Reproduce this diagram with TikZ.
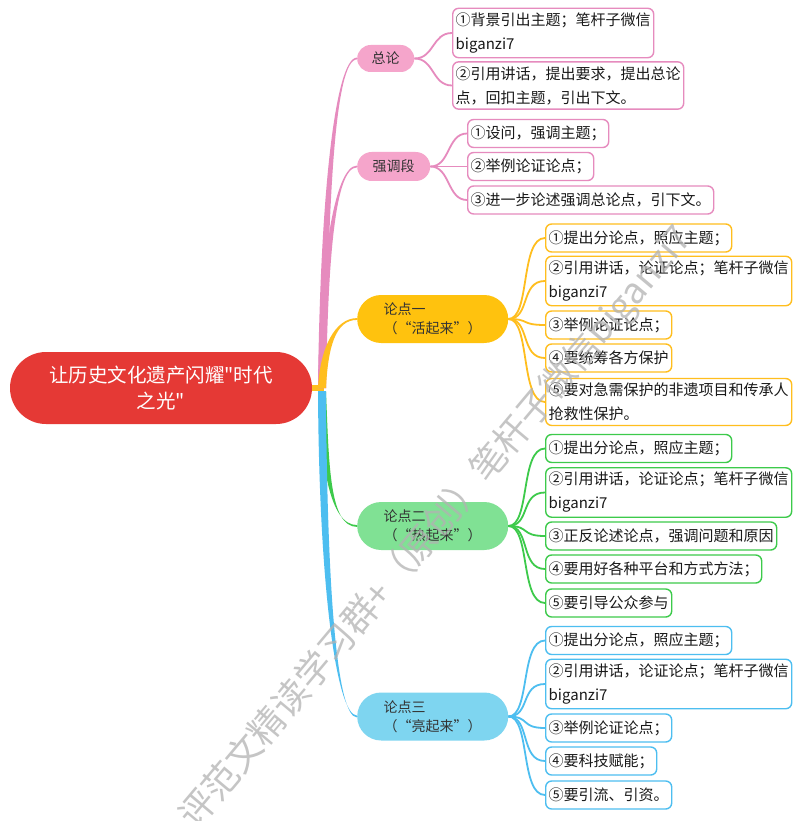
\documentclass[tikz,border=0pt]{standalone}
\usepackage{fontspec}
\setmainfont{Noto Sans CJK SC}[Ligatures=TeXOff]
\usetikzlibrary{calc}

\definecolor{rouge}{HTML}{E53935}
\definecolor{rose}{HTML}{E68BBE}
\definecolor{roseclair}{HTML}{F5A5CB}
\definecolor{jaune}{HTML}{FFBE1E}
\definecolor{jauneclair}{HTML}{FFC20E}
\definecolor{vert}{HTML}{3DCA4B}
\definecolor{vertclair}{HTML}{80E194}
\definecolor{bleu}{HTML}{4DBEF0}
\definecolor{bleuclair}{HTML}{7ED5F0}

\begin{document}
\begin{tikzpicture}[x=1pt, y=-1pt,
		racine/.style={fill=rouge, text=white, rounded corners=36pt, minimum width=302pt, minimum height=72pt, align=center, font=\fontsize{19.5}{26}\selectfont},
		theme/.style={fill=#1, text=black!80, anchor=west, align=left, inner sep=0pt, font=\fontsize{14}{19}\selectfont},
		feuille/.style={draw=#1, line width=1.4pt, fill=white, text=black!90, rounded corners=6pt, anchor=west, align=left, inner xsep=3pt, inner ysep=4.5pt, minimum height=28pt, font=\fontsize{15}{24}\selectfont},
		lien/.style={draw=#1, line width=1.8pt},
		filigrane/.style={text=black!30, text opacity=0.75, rotate=50, anchor=west, inner sep=0pt, font=\fontsize{36}{36}\selectfont},
	]
		% Cadre de la figure
		\useasboundingbox (0,0) rectangle (800,821);
		\fill[white] (0,0) rectangle (800,821);

		% Idée centrale
		\node[racine] (racine) at (161,388) {让历史文化遗产闪耀"时代\\之光"};
		\coordinate (tronc) at (322,388);

		% Thèmes
		\node[theme=roseclair, minimum width=57pt, minimum height=27pt, rounded corners=13.5pt, align=center] (zonglun) at (357,58.5) {总论};
		\node[theme=roseclair, minimum width=73pt, minimum height=29pt, rounded corners=14.5pt, align=center] (qiangdiao) at (357,166.5) {强调段};
		\node[theme=jauneclair, minimum width=151pt, minimum height=48pt, rounded corners=24pt] (lun1) at (357,319) {论点一\\（“活起来”）};
		\node[theme=vertclair, minimum width=151pt, minimum height=48pt, rounded corners=24pt] (lun2) at (357,526) {论点二\\（“热起来”）};
		\node[theme=bleuclair, minimum width=151pt, minimum height=48pt, rounded corners=24pt] (lun3) at (357,716.5) {论点三\\（“亮起来”）};

		% Feuilles : total
		\node[feuille=rose] (z1) at (452,33) {①背景引出主题；笔杆子微信\\biganzi7};
		\node[feuille=rose] (z2) at (452,85.5) {②引用讲话，提出要求，提出总论\\点，回扣主题，引出下文。};

		% Feuilles : insistance
		\node[feuille=rose] (q1) at (467,133.5) {①设问，强调主题；};
		\node[feuille=rose] (q2) at (467,166.5) {②举例论证论点；};
		\node[feuille=rose] (q3) at (467,200) {③进一步论述强调总论点，引下文。};

		% Feuilles : point un
		\node[feuille=jaune] (a1) at (545,238) {①提出分论点，照应主题；};
		\node[feuille=jaune] (a2) at (545,281) {②引用讲话，论证论点；笔杆子微信\\biganzi7};
		\node[feuille=jaune] (a3) at (545,325) {③举例论证论点；};
		\node[feuille=jaune] (a4) at (545,358) {④要统筹各方保护};
		\node[feuille=jaune] (a5) at (545,402) {⑤要对急需保护的非遗项目和传承人\\抢救性保护。};

		% Feuilles : point deux
		\node[feuille=vert] (b1) at (545,448.5) {①提出分论点，照应主题；};
		\node[feuille=vert] (b2) at (545,492.5) {②引用讲话，论证论点；笔杆子微信\\biganzi7};
		\node[feuille=vert] (b3) at (545,536) {③正反论述论点，强调问题和原因};
		\node[feuille=vert] (b4) at (545,569) {④要用好各种平台和方式方法；};
		\node[feuille=vert] (b5) at (545,603) {⑤要引导公众参与};

		% Feuilles : point trois
		\node[feuille=bleu] (c1) at (545,640.5) {①提出分论点，照应主题；};
		\node[feuille=bleu] (c2) at (545,684) {②引用讲话，论证论点；笔杆子微信\\biganzi7};
		\node[feuille=bleu] (c3) at (545,728) {③举例论证论点；};
		\node[feuille=bleu] (c4) at (545,761) {④要科技赋能；};
		\node[feuille=bleu] (c5) at (545,795) {⑤要引流、引资。};

		% Branches principales (effilées)
		\draw[jaune, line width=6pt] (racine.east) -- ($(tronc)+(2,0)$);
		\fill[rose] ($(tronc)+(-4,0)$) .. controls +(2,-190) and +(-22,0) .. ($(zonglun.west)+(0,-0.9)$) -- ($(zonglun.west)+(0,0.9)$) .. controls +(-22,0) and +(2,-190) .. ($(tronc)+(4,0)$) -- cycle;
		\fill[rose] ($(tronc)+(-4,0)$) .. controls +(2,-130) and +(-22,0) .. ($(qiangdiao.west)+(0,-0.9)$) -- ($(qiangdiao.west)+(0,0.9)$) .. controls +(-22,0) and +(2,-130) .. ($(tronc)+(4,0)$) -- cycle;
		\fill[jaune] ($(tronc)+(-4,0)$) .. controls +(2,-40) and +(-22,0) .. ($(lun1.west)+(0,-0.9)$) -- ($(lun1.west)+(0,0.9)$) .. controls +(-22,0) and +(2,-40) .. ($(tronc)+(4,0)$) -- cycle;
		\fill[vert] ($(tronc)+(-4,4)$) .. controls +(3,70) and +(-28,0) .. ($(lun2.west)+(0,-0.9)$) -- ($(lun2.west)+(0,0.9)$) .. controls +(-28,0) and +(3,70) .. ($(tronc)+(4,4)$) -- cycle;
		\fill[bleu] ($(tronc)+(-4,3)$) .. controls +(1,200) and +(-20,0) .. ($(lun3.west)+(0,-0.9)$) -- ($(lun3.west)+(0,0.9)$) .. controls +(-20,0) and +(1,200) .. ($(tronc)+(4,3)$) -- cycle;

		% Liens vers les feuilles
		\draw[lien=rose] (zonglun.east) .. controls +(20,0) and +(-20,0) .. (z1.west);
		\draw[lien=rose] (zonglun.east) .. controls +(20,0) and +(-20,0) .. (z2.west);
		\draw[lien=rose] (qiangdiao.east) .. controls +(20,0) and +(-20,0) .. (q1.west);
		\draw[lien=rose] (qiangdiao.east) .. controls +(20,0) and +(-20,0) .. (q2.west);
		\draw[lien=rose] (qiangdiao.east) .. controls +(20,0) and +(-20,0) .. (q3.west);
		\draw[lien=jaune] (lun1.east) .. controls +(22,0) and +(-25,0) .. (a1.west);
		\draw[lien=jaune] (lun1.east) .. controls +(22,0) and +(-25,0) .. (a2.west);
		\draw[lien=jaune] (lun1.east) .. controls +(22,0) and +(-25,0) .. (a3.west);
		\draw[lien=jaune] (lun1.east) .. controls +(22,0) and +(-25,0) .. (a4.west);
		\draw[lien=jaune] (lun1.east) .. controls +(22,0) and +(-25,0) .. (a5.west);
		\draw[lien=vert] (lun2.east) .. controls +(22,0) and +(-25,0) .. (b1.west);
		\draw[lien=vert] (lun2.east) .. controls +(22,0) and +(-25,0) .. (b2.west);
		\draw[lien=vert] (lun2.east) .. controls +(22,0) and +(-25,0) .. (b3.west);
		\draw[lien=vert] (lun2.east) .. controls +(22,0) and +(-25,0) .. (b4.west);
		\draw[lien=vert] (lun2.east) .. controls +(22,0) and +(-25,0) .. (b5.west);
		\draw[lien=bleu] (lun3.east) .. controls +(22,0) and +(-25,0) .. (c1.west);
		\draw[lien=bleu] (lun3.east) .. controls +(22,0) and +(-25,0) .. (c2.west);
		\draw[lien=bleu] (lun3.east) .. controls +(22,0) and +(-25,0) .. (c3.west);
		\draw[lien=bleu] (lun3.east) .. controls +(22,0) and +(-25,0) .. (c4.west);
		\draw[lien=bleu] (lun3.east) .. controls +(22,0) and +(-25,0) .. (c5.west);

		% Filigrane
		\node[filigrane] (filigrane) at (188,824) {评范文精读学习群+（原创）笔杆子微信biganzi7};
	\end{tikzpicture}
\end{document}
